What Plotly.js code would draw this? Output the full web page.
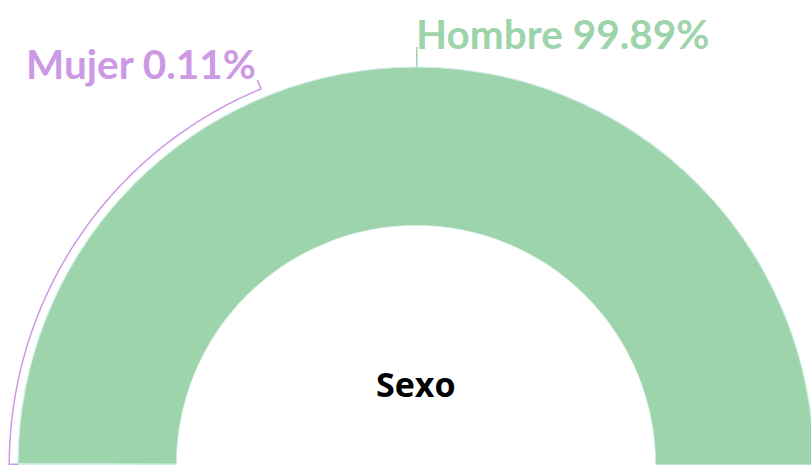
<!DOCTYPE html>
<html>
<head>
<meta charset="utf-8">
<script src="https://cdn.plot.ly/plotly-3.0.1.min.js"></script>
<style>
html,body{margin:0;padding:0;overflow:hidden;background:#fff;}
#chart{position:absolute;left:-4px;top:0;width:840px;height:474px;}
</style>
</head>
<body>
<div id="chart"></div>
<script>
// ---- data ----
const categories = ["Mujer", "Hombre"];
const percents = [0.11, 99.89];
const colors = ["#cc99e5", "#9dd4ab"];
const centerTitle = "Sexo";

// ---- geometry (fractions of the full polar radius) ----
const HOLE = 0.570;   // inner edge of the ring
const OUTER = 0.9476; // outer edge of the ring
const RMAX = (1 - HOLE) / (OUTER - HOLE);
const rr = f => (f * OUTER - HOLE) / (OUTER - HOLE); // f: multiple of ring outer radius
const SPAN = 180;

const widths = percents.map(p => p / 100 * SPAN);
const thetas = [];
let acc = 0;
widths.forEach(w => { thetas.push(acc + w / 2); acc += w; });

const traces = [{
  type: "barpolar",
  r: categories.map(() => 1),
  theta: thetas,
  width: widths,
  text: categories,
  marker: { color: colors, line: { color: "#d3eee6", width: 1.2 } },
  hovertemplate: "%{text}<extra></extra>",
  showlegend: false
}];

// leader line for Mujer (runs along the outside of the ring)
const mujerLabelTheta = 67.6;
const mT = [thetas[0], thetas[0]], mR = [1, rr(1.022)];
for (let t = 0.5; t < mujerLabelTheta; t += 0.5) { mT.push(t); mR.push(rr(1.022)); }
mT.push(mujerLabelTheta, mujerLabelTheta); mR.push(rr(1.022), rr(1.046));
traces.push({
  type: "scatterpolar", mode: "lines", theta: mT, r: mR, cliponaxis: false,
  line: { color: colors[0], width: 1.5 }, hoverinfo: "skip", showlegend: false
});
// leader line for Hombre
traces.push({
  type: "scatterpolar", mode: "lines", theta: [thetas[1], thetas[1]], r: [1, rr(1.05)],
  cliponaxis: false, line: { color: colors[1], width: 1.5 }, hoverinfo: "skip", showlegend: false
});

const labelFont = (c) => ({ family: "Lato, sans-serif", size: 40.5, color: c, weight: 700 });
// page px -> paper coords (div shifted by -4px; radius 420, bottom at 465)
const px = x => (x + 4) / 840;
const py = y => (465 - y) / 420;

const layout = {
  width: 840, height: 474,
  margin: { l: 0, r: 0, t: 45, b: 9 },
  paper_bgcolor: "#fff",
  showlegend: false,
  polar: {
    domain: { x: [0, 1], y: [0, 1] },
    sector: [0, 180],
    hole: HOLE,
    bgcolor: "rgba(0,0,0,0)",
    bargap: 0,
    angularaxis: {
      rotation: 180, direction: "clockwise",
      showgrid: false, showline: false, showticklabels: false, ticks: ""
    },
    radialaxis: { range: [0, RMAX], visible: false, showgrid: false, showline: false }
  },
  annotations: [
    {
      text: "<b>" + categories[0] + " " + percents[0].toFixed(2) + "%</b>",
      xref: "paper", yref: "paper", x: px(258), y: py(64),
      xanchor: "right", yanchor: "middle", showarrow: false, font: labelFont(colors[0])
    },
    {
      text: "<b>" + categories[1] + " " + percents[1].toFixed(2) + "%</b>",
      xref: "paper", yref: "paper", x: px(414), y: py(33),
      xanchor: "left", yanchor: "middle", showarrow: false, font: labelFont(colors[1])
    },
    {
      text: "<b>" + centerTitle + "</b>",
      xref: "paper", yref: "paper", x: px(416), y: py(384),
      xanchor: "center", yanchor: "middle", showarrow: false,
      font: { family: "Open Sans, sans-serif", size: 34, color: "#000" }
    }
  ]
};

Plotly.newPlot("chart", traces, layout, { displayModeBar: false, staticPlot: true });
</script>
</body>
</html>
